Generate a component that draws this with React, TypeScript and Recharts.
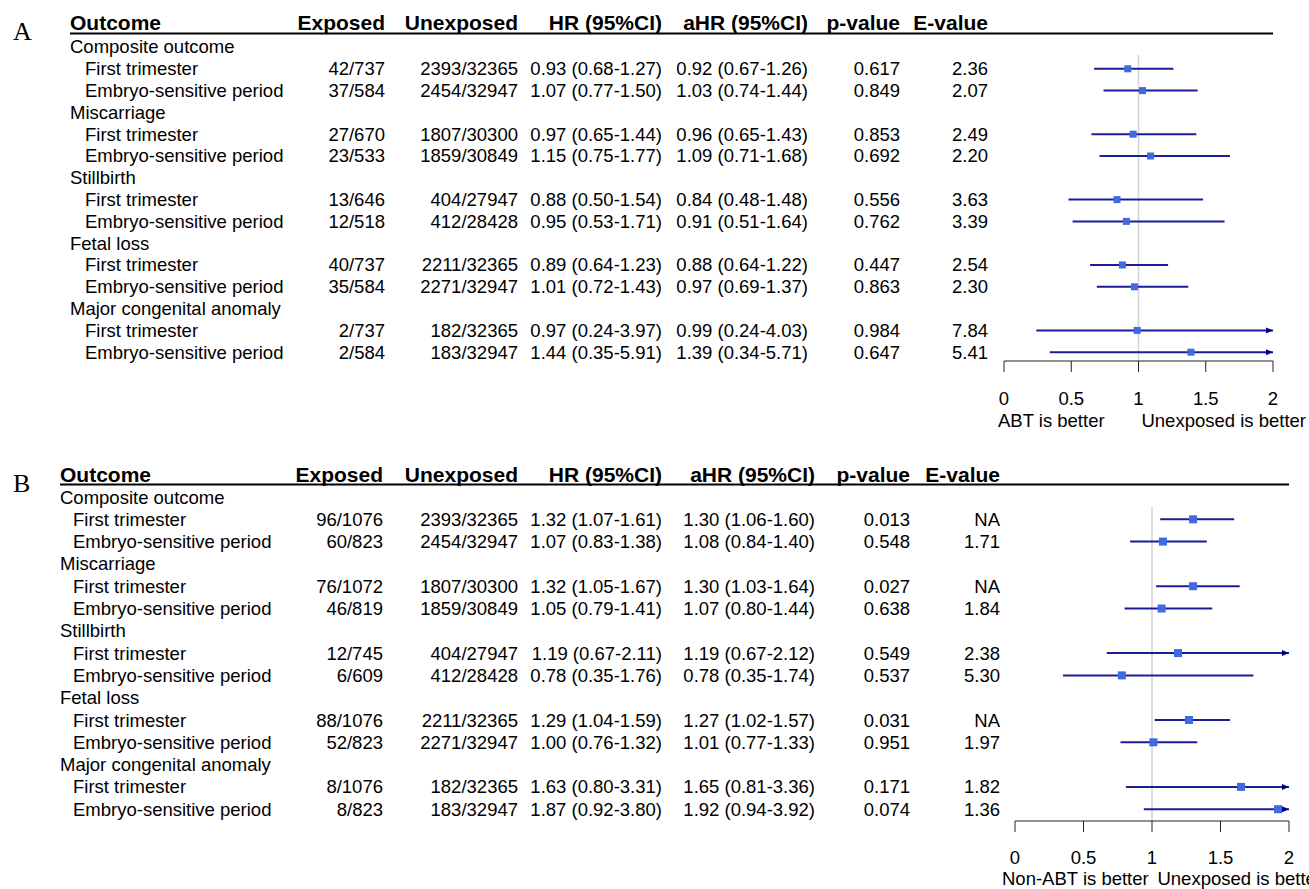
import React from 'react'
import { ComposedChart, Scatter, ErrorBar, XAxis, YAxis, ReferenceLine } from 'recharts'

const FONT = '"Liberation Sans", Arial, sans-serif'

const outcomes = ['Composite outcome', 'Miscarriage', 'Stillbirth', 'Fetal loss', 'Major congenital anomaly']
const periods = ['First trimester', 'Embryo-sensitive period']
const headers = ['Outcome', 'Exposed', 'Unexposed', 'HR (95%CI)', 'aHR (95%CI)', 'p-value', 'E-value']
const xTicks = [0, 0.5, 1, 1.5, 2]

const unexposed = [
  '2393/32365', '2454/32947', '1807/30300', '1859/30849', '404/27947',
  '412/28428', '2211/32365', '2271/32947', '182/32365', '183/32947',
]

// panel A: ABT vs unexposed
const aExposed = ['42/737', '37/584', '27/670', '23/533', '13/646', '12/518', '40/737', '35/584', '2/737', '2/584']
const aHr = [
  '0.93 (0.68-1.27)', '1.07 (0.77-1.50)', '0.97 (0.65-1.44)', '1.15 (0.75-1.77)', '0.88 (0.50-1.54)',
  '0.95 (0.53-1.71)', '0.89 (0.64-1.23)', '1.01 (0.72-1.43)', '0.97 (0.24-3.97)', '1.44 (0.35-5.91)',
]
const aAhr = [0.92, 1.03, 0.96, 1.09, 0.84, 0.91, 0.88, 0.97, 0.99, 1.39]
const aLow = [0.67, 0.74, 0.65, 0.71, 0.48, 0.51, 0.64, 0.69, 0.24, 0.34]
const aHigh = [1.26, 1.44, 1.43, 1.68, 1.48, 1.64, 1.22, 1.37, 4.03, 5.71]
const aP = ['0.617', '0.849', '0.853', '0.692', '0.556', '0.762', '0.447', '0.863', '0.984', '0.647']
const aE = ['2.36', '2.07', '2.49', '2.20', '3.63', '3.39', '2.54', '2.30', '7.84', '5.41']

// panel B: non-ABT vs unexposed
const bExposed = ['96/1076', '60/823', '76/1072', '46/819', '12/745', '6/609', '88/1076', '52/823', '8/1076', '8/823']
const bHr = [
  '1.32 (1.07-1.61)', '1.07 (0.83-1.38)', '1.32 (1.05-1.67)', '1.05 (0.79-1.41)', '1.19 (0.67-2.11)',
  '0.78 (0.35-1.76)', '1.29 (1.04-1.59)', '1.00 (0.76-1.32)', '1.63 (0.80-3.31)', '1.87 (0.92-3.80)',
]
const bAhr = [1.30, 1.08, 1.30, 1.07, 1.19, 0.78, 1.27, 1.01, 1.65, 1.92]
const bLow = [1.06, 0.84, 1.03, 0.80, 0.67, 0.35, 1.02, 0.77, 0.81, 0.94]
const bHigh = [1.60, 1.40, 1.64, 1.44, 2.12, 1.74, 1.57, 1.33, 3.36, 3.92]
const bP = ['0.013', '0.548', '0.027', '0.638', '0.549', '0.537', '0.031', '0.951', '0.171', '0.074']
const bE = ['NA', '1.71', 'NA', '1.84', '2.38', '5.30', 'NA', '1.97', '1.82', '1.36']

const fmt = (v: number) => v.toFixed(2)
const rowOf = (i: number) => Math.floor(i / 2) * 3 + 1 + (i % 2)

const buildPanel = (exposed, hr, ahr, low, high, p, e) => {
  const rows = ahr.map((est, i) => ({
    row: rowOf(i),
    est,
    err: [est - low[i], Math.min(high[i], 2) - est],
  }))
  const arrows = ahr
    .map((_, i) => ({ est: 2, row: rowOf(i), over: high[i] > 2 }))
    .filter(d => d.over)
  // table text rows, placed on the same y scale as the estimates
  const table = [
    { est: 0, row: -1, kind: 'header', label: headers[0], cells: headers.slice(1) },
    ...outcomes.map((o, g) => ({ est: 0, row: g * 3, kind: 'group', label: o, cells: [] })),
    ...ahr.map((est, i) => ({
      est: 0,
      row: rowOf(i),
      kind: 'item',
      label: periods[i % 2],
      cells: [exposed[i], unexposed[i], hr[i], `${fmt(est)} (${fmt(low[i])}-${fmt(high[i])})`, p[i], e[i]],
    })),
  ]
  return { rows, arrows, table }
}

const panelA = {
  ...buildPanel(aExposed, aHr, aAhr, aLow, aHigh, aP, aE),
  letter: 'A', left: 'ABT is better', right: 'Unexposed is better',
  height: 440, marginLeft: 1004, marginRight: 36, xAxisHeight: 79,
  yDomain: [-1.697, 14.404], refTop: 0.37, boxSize: 7,
  groupX: 70, itemX: 85, cols: [385, 518, 662, 808, 900, 988],
  headerDy: -2.3, underlineDy: 8.3, letterDy: 15, tickMargin: 20, subDy: 59, subLeftDx: -6, plotRight: 1273,
}

const panelB = {
  ...buildPanel(bExposed, bHr, bAhr, bLow, bHigh, bP, bE),
  letter: 'B', left: 'Non-ABT is better', right: 'Unexposed is better',
  height: 449, marginLeft: 1015, marginRight: 20, xAxisHeight: 68,
  yDomain: [-2.108, 14.529], refTop: 0.45, boxSize: 8,
  groupX: 60, itemX: 73, cols: [383, 518, 662, 815, 910, 1000],
  headerDy: -0.5, underlineDy: 9.8, letterDy: 17, tickMargin: 19, subDy: 57, subLeftDx: -13, plotRight: 1289,
}

const TableRow = ({ cy, payload, panel }) => {
  const y = cy
  const txt = { fontFamily: FONT, fontSize: 18.5, fill: '#000' }
  if (payload.kind === 'header') {
    const hy = y + panel.headerDy
    const head = { fontFamily: FONT, fontSize: 21, fontWeight: 'bold', fill: '#000' }
    return (
      <g>
        <text x={13} y={y + panel.letterDy} fontFamily='"Liberation Serif", "Times New Roman", serif' fontSize={26} fill="#000">
          {panel.letter}
        </text>
        <text x={panel.groupX} y={hy} dominantBaseline="central" {...head}>{payload.label}</text>
        {panel.cols.map((cx, i) => (
          <text key={i} x={cx} y={hy} textAnchor="end" dominantBaseline="central" {...head}>
            {payload.cells[i]}
          </text>
        ))}
        <line x1={panel.groupX} x2={panel.plotRight} y1={y + panel.underlineDy} y2={y + panel.underlineDy} stroke="#000" strokeWidth={2} />
      </g>
    )
  }
  return (
    <g>
      <text x={payload.kind === 'group' ? panel.groupX : panel.itemX} y={y} dominantBaseline="central" {...txt}>
        {payload.label}
      </text>
      {payload.cells.map((c, i) => (
        <text key={i} x={panel.cols[i]} y={y} textAnchor="end" dominantBaseline="central" {...txt}>{c}</text>
      ))}
    </g>
  )
}

const SubLabels = ({ viewBox, panel }) => {
  const { x, y, width } = viewBox
  return (
    <g fontFamily={FONT} fontSize={18.5} fill="#000">
      <text x={x + panel.subLeftDx} y={y + panel.subDy} dominantBaseline="central">{panel.left}</text>
      <text x={x + width + 33} y={y + panel.subDy} textAnchor="end" dominantBaseline="central">{panel.right}</text>
    </g>
  )
}

const ForestPanel = ({ panel }) => {
  const s = panel.boxSize
  return (
    <ComposedChart
      width={1309}
      height={panel.height}
      margin={{ top: 10, right: panel.marginRight, bottom: 0, left: panel.marginLeft }}
      style={{ overflow: 'hidden' }}
    >
      <XAxis
        type="number"
        dataKey="est"
        domain={[0, 2]}
        ticks={xTicks}
        height={panel.xAxisHeight}
        stroke="#222"
        tickSize={11}
        tickMargin={panel.tickMargin}
        tick={{ fontSize: 18.5, fill: '#000', fontFamily: FONT }}
        label={{ content: props => <SubLabels {...props} panel={panel} /> }}
      />
      <YAxis type="number" dataKey="row" reversed domain={panel.yDomain} hide />
      <ReferenceLine
        segment={[{ x: 1, y: panel.refTop }, { x: 1, y: panel.yDomain[1] }]}
        stroke="#d3d3d3"
        strokeWidth={1.5}
      />
      <Scatter
        data={panel.table}
        isAnimationActive={false}
        shape={props => <TableRow {...props} panel={panel} />}
      />
      <Scatter
        data={panel.rows}
        isAnimationActive={false}
        shape={({ cx, cy }) => <rect x={cx - s / 2} y={cy - s / 2} width={s} height={s} fill="#4169E1" />}
      >
        <ErrorBar dataKey="err" direction="x" width={0} stroke="#1c1c99" strokeWidth={2} isAnimationActive={false} />
      </Scatter>
      <Scatter
        data={panel.arrows}
        isAnimationActive={false}
        shape={({ cx, cy }) => (
          <path d={`M${cx - 7},${cy - 3} L${cx},${cy} L${cx - 7},${cy + 3} Z`} fill="#00008B" />
        )}
      />
    </ComposedChart>
  )
}

export default function App() {
  return (
    <div style={{ position: 'absolute', left: 0, top: 0, width: 1309, height: 889, background: '#fff', fontFamily: FONT }}>
      <div style={{ position: 'absolute', left: 0, top: 0 }}>
        <ForestPanel panel={panelA} />
      </div>
      <div style={{ position: 'absolute', left: 0, top: 440 }}>
        <ForestPanel panel={panelB} />
      </div>
    </div>
  )
}
